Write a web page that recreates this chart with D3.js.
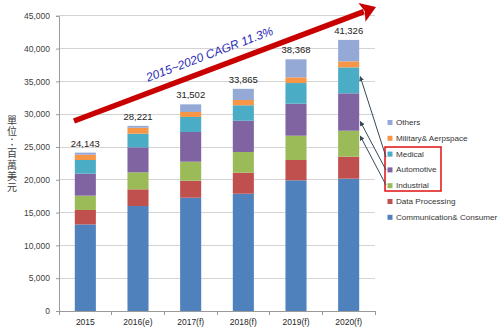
<!DOCTYPE html>
<html><head><meta charset="utf-8">
<script src="https://cdn.jsdelivr.net/npm/d3@7"></script>
<style>body{margin:0;background:#fff}svg{display:block}</style>
</head><body>
<script>
const years = ["2015","2016(e)","2017(f)","2018(f)","2019(f)","2020(f)"];
const seriesNames = ["Communication& Consumer","Data Processing","Industrial","Automotive","Medical","Military& Aerpspace","Others"];
const commConsumer = [13200,16000,17270,17880,19920,20170];
const dataProcessing = [2200,2550,2590,3200,3100,3350];
const industrial = [2180,2590,2900,3160,3700,3960];
const automotive = [3350,3810,4530,4760,4880,5700];
const medical = [2090,2070,2290,2360,3150,3960];
const military = [800,910,760,805,870,910];
const others = [323,291,1163,1704,2748,3276];
const totals = [24143,28221,31502,33865,38368,41326];
const yTicks = [0,5000,10000,15000,20000,25000,30000,35000,40000,45000];
const colors = ["#4F81BD","#C0504D","#9BBB59","#8064A2","#4BACC6","#F79646","#95A9D6"];
const cagrLabel = "2015~2020 CAGR 11.3%";
const yTitle = "單位：百萬美元";
const highlighted = ["Medical","Automotive","Industrial"];

const W=500,H=329;
const svg=d3.select("body").append("svg").attr("width",W).attr("height",H);
const x=d3.scaleBand().domain(years).range([59,375]).paddingInner(0.6).paddingOuter(0.3);
const y=d3.scaleLinear().domain([0,45000]).range([311,15.8]);

const rows = years.map((yr,i)=>({year:yr, "Communication& Consumer":commConsumer[i],"Data Processing":dataProcessing[i],"Industrial":industrial[i],"Automotive":automotive[i],"Medical":medical[i],"Military& Aerpspace":military[i],"Others":others[i]}));
const stack=d3.stack().keys(seriesNames)(rows);

// gridlines
svg.append("g").selectAll("line").data(yTicks.filter(d=>d>0)).join("line")
  .attr("x1",59).attr("x2",375).attr("y1",d=>y(d)).attr("y2",d=>y(d))
  .attr("stroke","#d4d4d4").attr("stroke-width",1).attr("shape-rendering","crispEdges");

// y axis
const yAxis=svg.append("g").attr("transform","translate(59,0)")
  .call(d3.axisLeft(y).tickValues(yTicks).tickFormat(d3.format(",")).tickSize(3).tickPadding(6));
yAxis.select(".domain").attr("stroke","#9a9a9a");
yAxis.selectAll(".tick line").attr("stroke","#9a9a9a");
yAxis.selectAll("text").attr("font-family","Liberation Sans, Arial, sans-serif").attr("font-size","8.5px").attr("fill","#404040");

// x axis
const xAxis=svg.append("g").attr("transform","translate(0,311)")
  .call(d3.axisBottom(x).tickSize(0).tickPadding(8));
xAxis.select(".domain").attr("stroke","#9a9a9a");
xAxis.selectAll("text").attr("font-family","Liberation Sans, Arial, sans-serif").attr("font-size","8.5px").attr("fill","#262626");
const step=x.step();
svg.append("g").selectAll("line").data(d3.range(years.length+1)).join("line")
  .attr("x1",i=>59+i*step).attr("x2",i=>59+i*step).attr("y1",311).attr("y2",315)
  .attr("stroke","#9a9a9a").attr("shape-rendering","crispEdges");

// bars
svg.append("g").selectAll("g").data(stack).join("g").attr("fill",(d,i)=>colors[i])
  .selectAll("rect").data(d=>d).join("rect")
  .attr("x",d=>x(d.data.year)).attr("width",x.bandwidth())
  .attr("y",d=>y(d[1])).attr("height",d=>y(d[0])-y(d[1]));

// totals
svg.append("g").selectAll("text").data(totals).join("text")
  .attr("x",(d,i)=>x(years[i])+x.bandwidth()/2).attr("y",d=>y(d)-6)
  .attr("text-anchor","middle").attr("font-family","Liberation Sans, Arial, sans-serif")
  .attr("font-size","9.5px").attr("fill","#222").text(d3.format(","));

// y title (vertical, upright characters)
svg.append("text").attr("x",12).attr("y",115)
  .attr("style","writing-mode: vertical-rl; text-orientation: upright; letter-spacing: 1.2px;")
  .attr("font-family","Noto Sans CJK TC, sans-serif").attr("font-size","10px").attr("fill","#404040").text(yTitle);

// CAGR arrow
const p0=[74,121], p1=[376,7];
const dx=p1[0]-p0[0], dy=p1[1]-p0[1], L=Math.hypot(dx,dy), ux=dx/L, uy=dy/L;
const headLen=15, headW=10;
const bx=p1[0]-ux*headLen, by=p1[1]-uy*headLen;
svg.append("line").attr("x1",p0[0]).attr("y1",p0[1]).attr("x2",bx+ux*2).attr("y2",by+uy*2)
  .attr("stroke","#C80000").attr("stroke-width",5.5);
svg.append("path").attr("d",`M${p1[0]},${p1[1]} L${bx-uy*headW},${by+ux*headW} L${bx+ux*3},${by+uy*3} L${bx+uy*headW},${by-ux*headW} Z`)
  .attr("fill","#C80000");
const ang=Math.atan2(dy,dx)*180/Math.PI;
svg.append("text").attr("transform",`translate(211,58) rotate(${ang})`)
  .attr("text-anchor","middle").attr("font-family","Liberation Sans, Arial, sans-serif")
  .attr("font-style","italic").attr("font-size","12px").attr("fill","#2a2ab8").text(cagrLabel);

// legend
const legendNames = seriesNames.slice().reverse();
const lg=svg.append("g");
legendNames.forEach((n,i)=>{
  const ly=122.5+i*15.8;
  lg.append("rect").attr("x",387.5).attr("y",ly-2.5).attr("width",5).attr("height",5).attr("fill",colors[seriesNames.indexOf(n)]);
  lg.append("text").attr("x",396).attr("y",ly).attr("dominant-baseline","central")
    .attr("font-family","Liberation Sans, Arial, sans-serif").attr("font-size","8.1px").attr("fill","#333").text(n);
});
svg.append("rect").attr("x",385).attr("y",147).attr("width",56).attr("height",44)
  .attr("fill","none").attr("stroke","#e01010").attr("stroke-width",1.5);

// pointer arrows from highlighted legend entries to 2020 segments
svg.append("defs").append("marker").attr("id","ah").attr("viewBox","0 0 10 10").attr("refX",9).attr("refY",5)
  .attr("markerWidth",5).attr("markerHeight",5).attr("orient","auto")
  .append("path").attr("d","M0,0 L10,5 L0,10 Z").attr("fill","#34495a");
const last=years.length-1;
const segIdx={Medical:4,Automotive:3,Industrial:2};
const tailY={Medical:157,Automotive:170,Industrial:185};
const headFrac={Medical:0.35,Automotive:0.75,Industrial:0.2};
highlighted.forEach(n=>{
  const s=stack[segIdx[n]][last];
  const hy=y(s[1])+(y(s[0])-y(s[1]))*headFrac[n];
  svg.append("line").attr("x1",386).attr("y1",tailY[n]).attr("x2",x(years[last])+x.bandwidth()+1).attr("y2",hy)
    .attr("stroke","#34495a").attr("stroke-width",1).attr("marker-end","url(#ah)");
});
</script>
</body></html>
